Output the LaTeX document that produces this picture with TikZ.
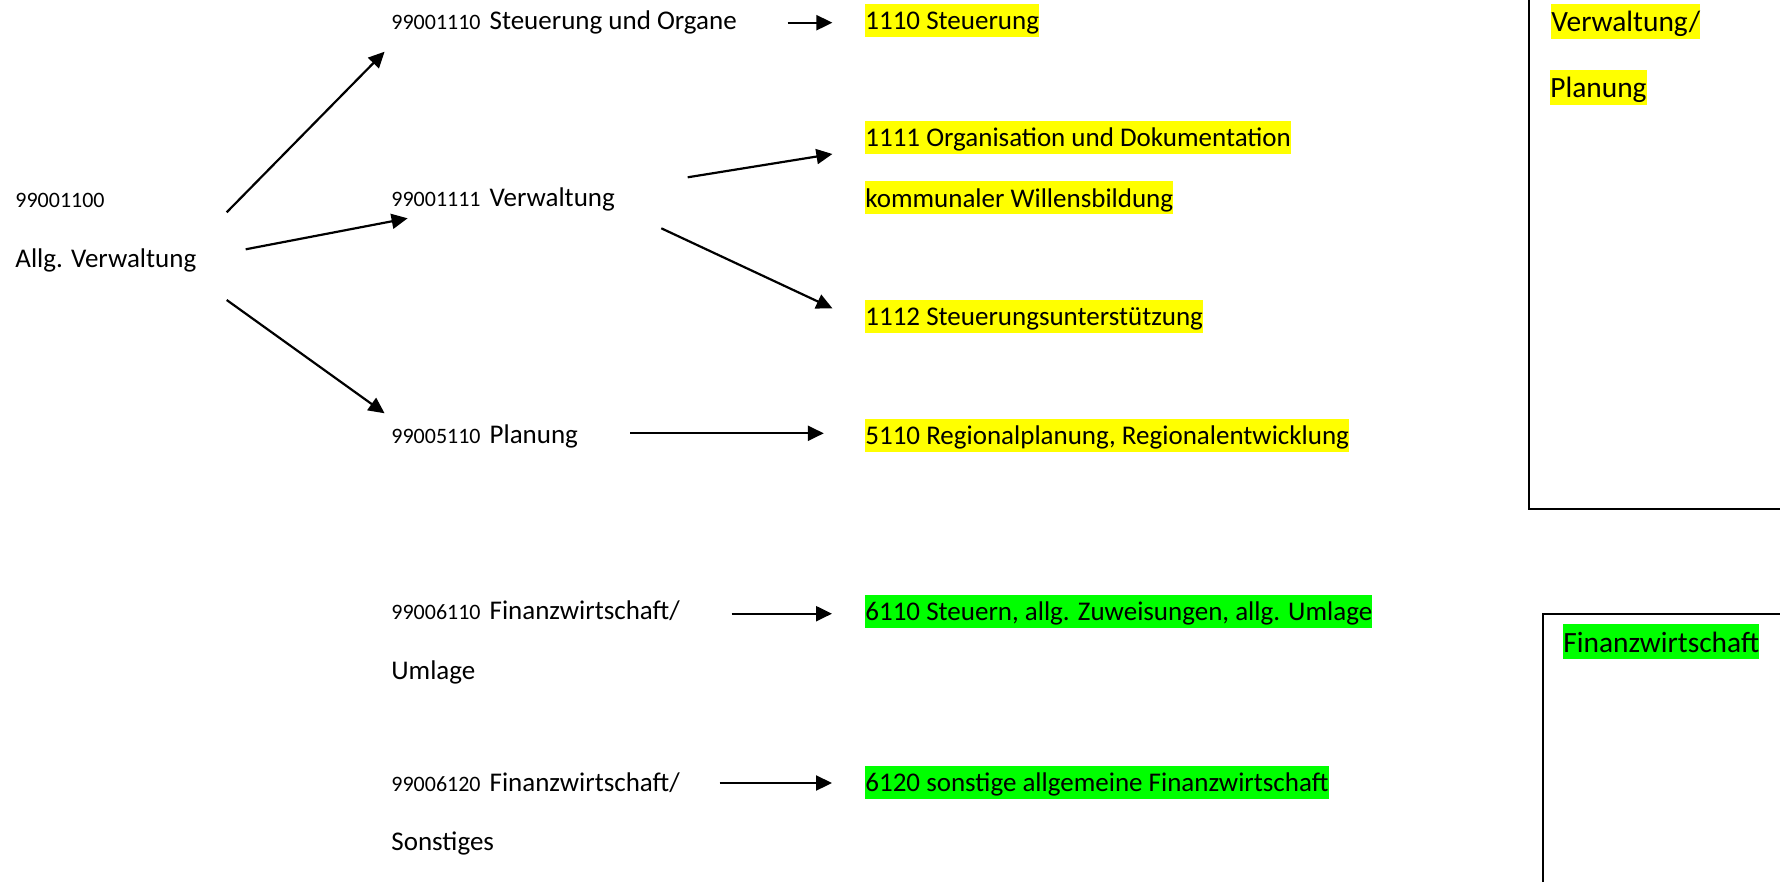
\documentclass[tikz,border=0pt]{standalone}
\usepackage{fontspec}
\setmainfont{Carlito}
\usetikzlibrary{arrows.meta}
\definecolor{hlyellow}{RGB}{255,255,0}
\definecolor{hlgreen}{RGB}{0,255,0}
\newcommand{\numf}{\fontsize{11pt}{13pt}\selectfont}
\newcommand{\gapx}{\hspace{4.5pt}}
\begin{document}
\begin{tikzpicture}[x=0.5pt,y=-0.5pt,
  txt/.style={anchor=base west,inner sep=0pt,font=\fontsize{13.5pt}{16pt}\selectfont},
  hl/.style={txt,fill=#1,text height=12.8pt,text depth=3.7pt},
  bighl/.style={anchor=base west,inner sep=0pt,font=\fontsize{14.7pt}{17pt}\selectfont,fill=#1,text height=14pt,text depth=3.6pt},
  conn/.style={line width=1.1pt,-{Triangle[length=8pt,width=7.5pt]}},
  framebox/.style={line width=1pt}]
\useasboundingbox (0,0) rectangle (1780,882);

% left column
\node[txt,font=\numf] (n1100) at (15,207) {99001100};
\node[txt] (allg) at (15,267) {Allg. Verwaltung};

% middle column
\node[txt] (s1110) at (391,30) {{\numf 99001110}\gapx Steuerung und Organe};
\node[txt] (s1111) at (391,206) {{\numf 99001111}\gapx Verwaltung};
\node[txt] (s5110) at (391,443) {{\numf 99005110}\gapx Planung};
\node[txt] (s6110) at (391,619) {{\numf 99006110}\gapx Finanzwirtschaft/};
\node[txt] (s6110b) at (391,679) {Umlage};
\node[txt] (s6120) at (391,791) {{\numf 99006120}\gapx Finanzwirtschaft/};
\node[txt] (s6120b) at (391,850) {Sonstiges};

% highlighted targets
\node[hl=hlyellow] (h1110) at (865,29.5) {1110 Steuerung};
\node[hl=hlyellow] (h1111) at (865,147) {1111 Organisation und Dokumentation};
\node[hl=hlyellow] (h1111b) at (865,207) {kommunaler Willensbildung};
\node[hl=hlyellow] (h1112) at (865,325.5) {1112 Steuerungsunterstützung};
\node[hl=hlyellow] (h5110) at (865,444.5) {5110 Regionalplanung, Regionalentwicklung};
\node[hl=hlgreen] (h6110) at (865,620.5) {6110 Steuern, allg. Zuweisungen, allg. Umlage};
\node[hl=hlgreen] (h6120) at (865,791.5) {6120 sonstige allgemeine Finanzwirtschaft};

% right boxes
\draw[framebox] (1529,0) -- (1529,509) -- (1780,509);
\node[bighl=hlyellow] (rvp1) at (1551,32) {Verwaltung/};
\node[bighl=hlyellow] (rvp2) at (1550,98) {Planung};
\draw[framebox] (1543,882) -- (1543,614) -- (1780,614);
\node[bighl=hlgreen] (rfin) at (1563,652) {Finanzwirtschaft};

% connector end points
\coordinate (aA1) at (226.7,212.3); \coordinate (aA2) at (384.6,51.7);
\coordinate (aB1) at (245.7,249.3); \coordinate (aB2) at (407.6,218.3);
\coordinate (aC1) at (226.7,300);   \coordinate (aC2) at (384.6,413.3);
\coordinate (aD1) at (687.7,177.3); \coordinate (aD2) at (832.4,154);
\coordinate (aE1) at (661.3,228.3); \coordinate (aE2) at (832.4,308.3);
\coordinate (aF1) at (630.3,433.3); \coordinate (aF2) at (823.8,433.3);
\coordinate (aG1) at (787.6,22.7);  \coordinate (aG2) at (832.4,22.7);
\coordinate (aH1) at (731.7,613.7); \coordinate (aH2) at (832,613.7);
\coordinate (aI1) at (719.7,783);   \coordinate (aI2) at (832,783);

\draw[conn] (aA1) -- (aA2);
\draw[conn] (aB1) -- (aB2);
\draw[conn] (aC1) -- (aC2);
\draw[conn] (aD1) -- (aD2);
\draw[conn] (aE1) -- (aE2);
\draw[conn] (aF1) -- (aF2);
\draw[conn] (aG1) -- (aG2);
\draw[conn] (aH1) -- (aH2);
\draw[conn] (aI1) -- (aI2);
\end{tikzpicture}
\end{document}
